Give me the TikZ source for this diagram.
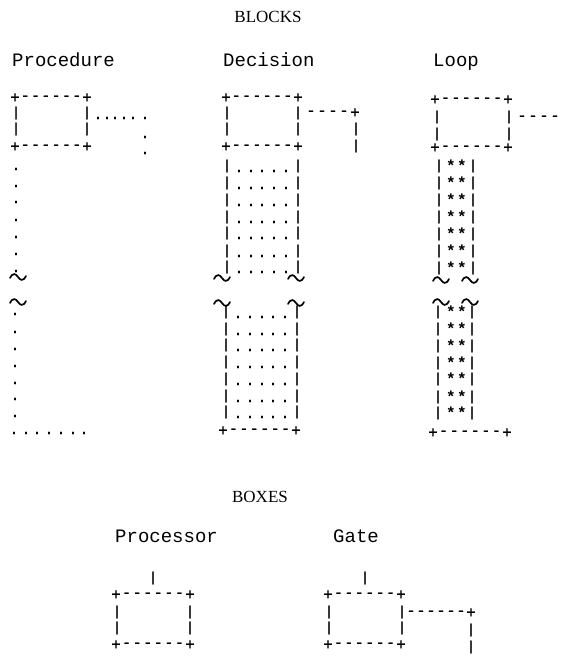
\documentclass[tikz,border=0pt]{standalone}
\usepackage{fontspec}
\newfontfamily\monof{Liberation Mono}
\newfontfamily\monog[FakeBold=0.8]{Liberation Mono}
\newfontfamily\seriff{Liberation Serif}
\newcommand\pl[2]{\node[gplus] at (#1,#2) {+};}
\newcommand\vb[2]{\node[gbar] at (#1,#2) {|};}
\newcommand\dt[2]{\node[gdot] at (#1,#2) {.};}
\newcommand\dsh[2]{\node[gdash] at (#1,#2) {-};}
\newcommand\hl[4]{\pl{#1}{#3}\pl{#2}{#3}%
  \foreach \k in {1,...,#4}{\dsh{{#1+\k*(#2-#1)/(#4+1)}}{#3}}}
\newcommand\tl[2]{\draw[tilde] ({#1-8},{#2+1}) .. controls ({#1-5},{#2-5}) and ({#1-2},{#2-3}) .. (#1,#2) .. controls ({#1+2},{#2+3}) and ({#1+5},{#2+5}) .. ({#1+8},{#2-1});}
\begin{document}
\begin{tikzpicture}[x=1pt,y=-1pt,
  gplus/.style={inner sep=0pt,outer sep=0pt,font=\monog\fontsize{16}{16}\selectfont},
  gdash/.style={inner sep=0pt,outer sep=0pt,font=\monog\fontsize{15}{15}\selectfont},
  gbar/.style={inner sep=0pt,outer sep=0pt,font=\monog\fontsize{13.5}{13.5}\selectfont},
  gdot/.style={inner sep=0pt,outer sep=0pt,font=\monog\fontsize{15}{15}\selectfont},
  ast/.style={inner sep=0pt,outer sep=0pt,font=\monof\bfseries\fontsize{16}{16}\selectfont},
  lab/.style={inner sep=0pt,anchor=base west,font=\monof\fontsize{19}{19}\selectfont},
  head/.style={inner sep=0pt,font=\seriff\fontsize{17}{17}\selectfont},
  tilde/.style={line width=1.7pt,line cap=round}]
\useasboundingbox[fill=white] (0,0) rectangle (563,656);
% headings
\node[head] (hblocks) at (268,17) {BLOCKS};
\node[head] (hboxes) at (260,497) {BOXES};
% ---------------- Procedure
\node[lab] (lproc) at (12,66) {Procedure};
\hl{15}{87}{98}{6}
\foreach \y in {113,129}{\vb{16}{\y}\vb{87}{\y}}
\hl{15}{87}{147}{6}
\foreach \x in {98,107,115,124,133,145}{\dt{\x}{118}}
\dt{145}{137}\dt{145}{153}
\foreach \y in {169,186,202,220,237,254,271}{\dt{16}{\y}}
\tl{18}{277}
\tl{18}{302}
\foreach \y in {314,332,349,366,383,399,416}{\dt{15}{\y}}
\foreach \x in {14,26,37,49,61,73,84}{\dt{\x}{433}}
% ---------------- Decision
\node[lab] (ldec) at (223,66) {Decision};
\hl{226}{298}{98}{6}
\foreach \y in {113,129}{\vb{227}{\y}\vb{298}{\y}}
\hl{226}{298}{147}{6}
\foreach \x in {311,322,333,344}{\dsh{\x}{113}}
\pl{355}{113}
\vb{356}{129}\vb{356}{146}
\foreach \y in {171,188,205,222,238,256,272}{\vb{227}{\y-5}\vb{298}{\y-5}%
  \foreach \x in {239,251,262,274,286}{\dt{\x}{\y}}}
\tl{222}{278}\tl{296}{278}
\tl{222}{303}\tl{296}{303}
\foreach \y in {317,334,350,367,384,401,417}{\vb{226}{\y-5}\vb{297}{\y-5}%
  \foreach \x in {238,250,262,273,285}{\dt{\x}{\y}}}
\hl{223}{296}{431}{6}
% ---------------- Loop
\node[lab] (lloop) at (433,66) {Loop};
\hl{435}{508}{100}{6}
\foreach \y in {117,134}{\vb{437}{\y}\vb{509}{\y}}
\hl{435}{508}{148}{6}
\foreach \x in {522,533,544,555}{\dsh{\x}{118}}
\foreach \y in {166,183,200,217,234,251,268}{\vb{439}{\y}\vb{473}{\y}%
  \node[ast] at (451,\y) {*};\node[ast] at (462,\y) {*};}
\tl{441}{280}\tl{470}{280}
\tl{441}{302}\tl{470}{302}
\foreach \y in {312,329,346,363,379,397,413}{\vb{438}{\y}\vb{472}{\y}%
  \node[ast] at (451,\y) {*};\node[ast] at (462,\y) {*};}
\hl{433}{507}{433}{6}
% ---------------- Processor
\node[lab] (lprocr) at (115,542) {Processor};
\vb{153}{578}
\hl{116}{190}{595}{6}
\foreach \y in {612,628}{\vb{117}{\y}\vb{190}{\y}}
\hl{116}{190}{645}{6}
% ---------------- Gate
\node[lab] (lgate) at (333,542) {Gate};
\vb{365}{578}
\hl{328}{401}{595}{6}
\foreach \y in {612,628}{\vb{329}{\y}\vb{402}{\y}}
\hl{328}{401}{645}{6}
\foreach \x in {411,421,431,441,451,461}{\dsh{\x}{613}}
\pl{471}{613}
\vb{471}{630}\vb{471}{647}
\end{tikzpicture}
\end{document}
